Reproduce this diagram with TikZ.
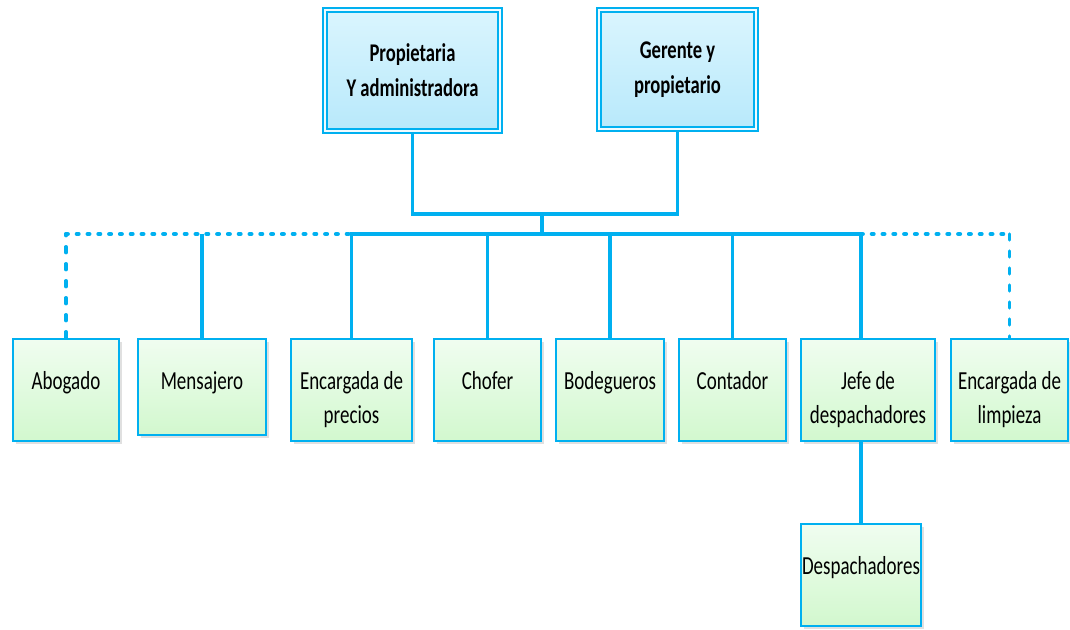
\documentclass[tikz,border=0pt]{standalone}
\usepackage{fontspec}
\setmainfont{Carlito}[FakeStretch=0.73]
\usetikzlibrary{positioning, shadows}

\definecolor{lineblue}{HTML}{00B0F0}
\definecolor{topA}{HTML}{DAF5FE}
\definecolor{topB}{HTML}{B8E9FB}
\definecolor{leafA}{HTML}{F0FDF0}
\definecolor{leafB}{HTML}{D2F8CE}

\begin{document}
\begin{tikzpicture}[
    x=1pt, y=-1pt,
    boss/.style={draw=lineblue, line width=2pt, double=topA!40!white,
                 double distance=1.2pt, top color=topA, bottom color=topB,
                 align=center, font=\fontsize{25.5}{35}\selectfont\bfseries,
                 drop shadow={shadow xshift=3pt, shadow yshift=-3pt,
                              opacity=0.25, fill=black!60}},
    leaf/.style={draw=lineblue, line width=2.6pt, top color=leafA,
                 bottom color=leafB,
                 drop shadow={shadow xshift=3pt, shadow yshift=-3pt,
                              opacity=0.2, fill=black!60}},
    lbl/.style={anchor=north, yshift=-34pt, inner sep=0pt, align=center,
                font=\fontsize{26}{34}\selectfont},
    link/.style={draw=lineblue, line width=3.4pt},
    hdots/.style={link, line width=4.2pt, line cap=round,
                  dash pattern=on 1.8pt off 9pt},
    vdots/.style={link, line cap=round, dash pattern=on 6pt off 11pt}
  ]
  \useasboundingbox (0,0) rectangle (1070,629);

  % owners
  \node[boss, minimum width=175pt, minimum height=121pt] (pa) at (412.5,70.5)
    {Propietaria\\Y administradora};
  \node[boss, minimum width=157pt, minimum height=119pt] (gp) at (677.5,69.5)
    {Gerente y\\propietario};

  % staff boxes
  \foreach \nm/\xa/\xb/\ya/\yb/\txt in {
      ab/12/120/338/442/Abogado,
      me/137/267/338/436/Mensajero,
      ep/290/413/338/442/{Encargada de\\precios},
      ch/433/542/338/442/Chofer,
      bo/555/665/338/442/Bodegueros,
      co/678/787/338/442/Contador,
      jd/800/936/338/442/{Jefe de\\despachadores},
      el/950/1069/338/442/{Encargada de\\limpieza},
      de/800/922/523/627/Despachadores} {
    \pgfmathsetmacro{\bw}{\xb-\xa-2}
    \pgfmathsetmacro{\bh}{\yb-\ya-2}
    \node[leaf, minimum width=\bw pt, minimum height=\bh pt,
          label={[lbl]north:{\txt}}] (\nm) at ({(\xa+\xb)/2},{(\ya+\yb)/2}) {};
  }

  \coordinate (jn) at (542,214);
  \coordinate (bus) at (542,234);

  % owners to bus
  \draw[link] (pa.south) |- (jn) -| (gp.south);
  \draw[link] (jn) -- (bus);

  % solid bus
  \draw[link] (ep.north) -- (ep.north |- bus) -- (bus -| de.north)
    -- (jd.north -| de.north);
  \foreach \c in {me, ch, bo, co}
    \draw[link] (bus -| \c.north) -- (\c.north);
  \draw[link] (jd.south -| de.north) -- (de.north);

  % dotted ends
  \draw[vdots] (ab.north) -- (ab.north |- bus);
  \draw[hdots] (ab.north |- bus) -- (bus -| ep.north);
  \draw[hdots] (bus -| de.north) -- (bus -| el.north);
  \draw[vdots] (bus -| el.north) -- (el.north);
\end{tikzpicture}
\end{document}
